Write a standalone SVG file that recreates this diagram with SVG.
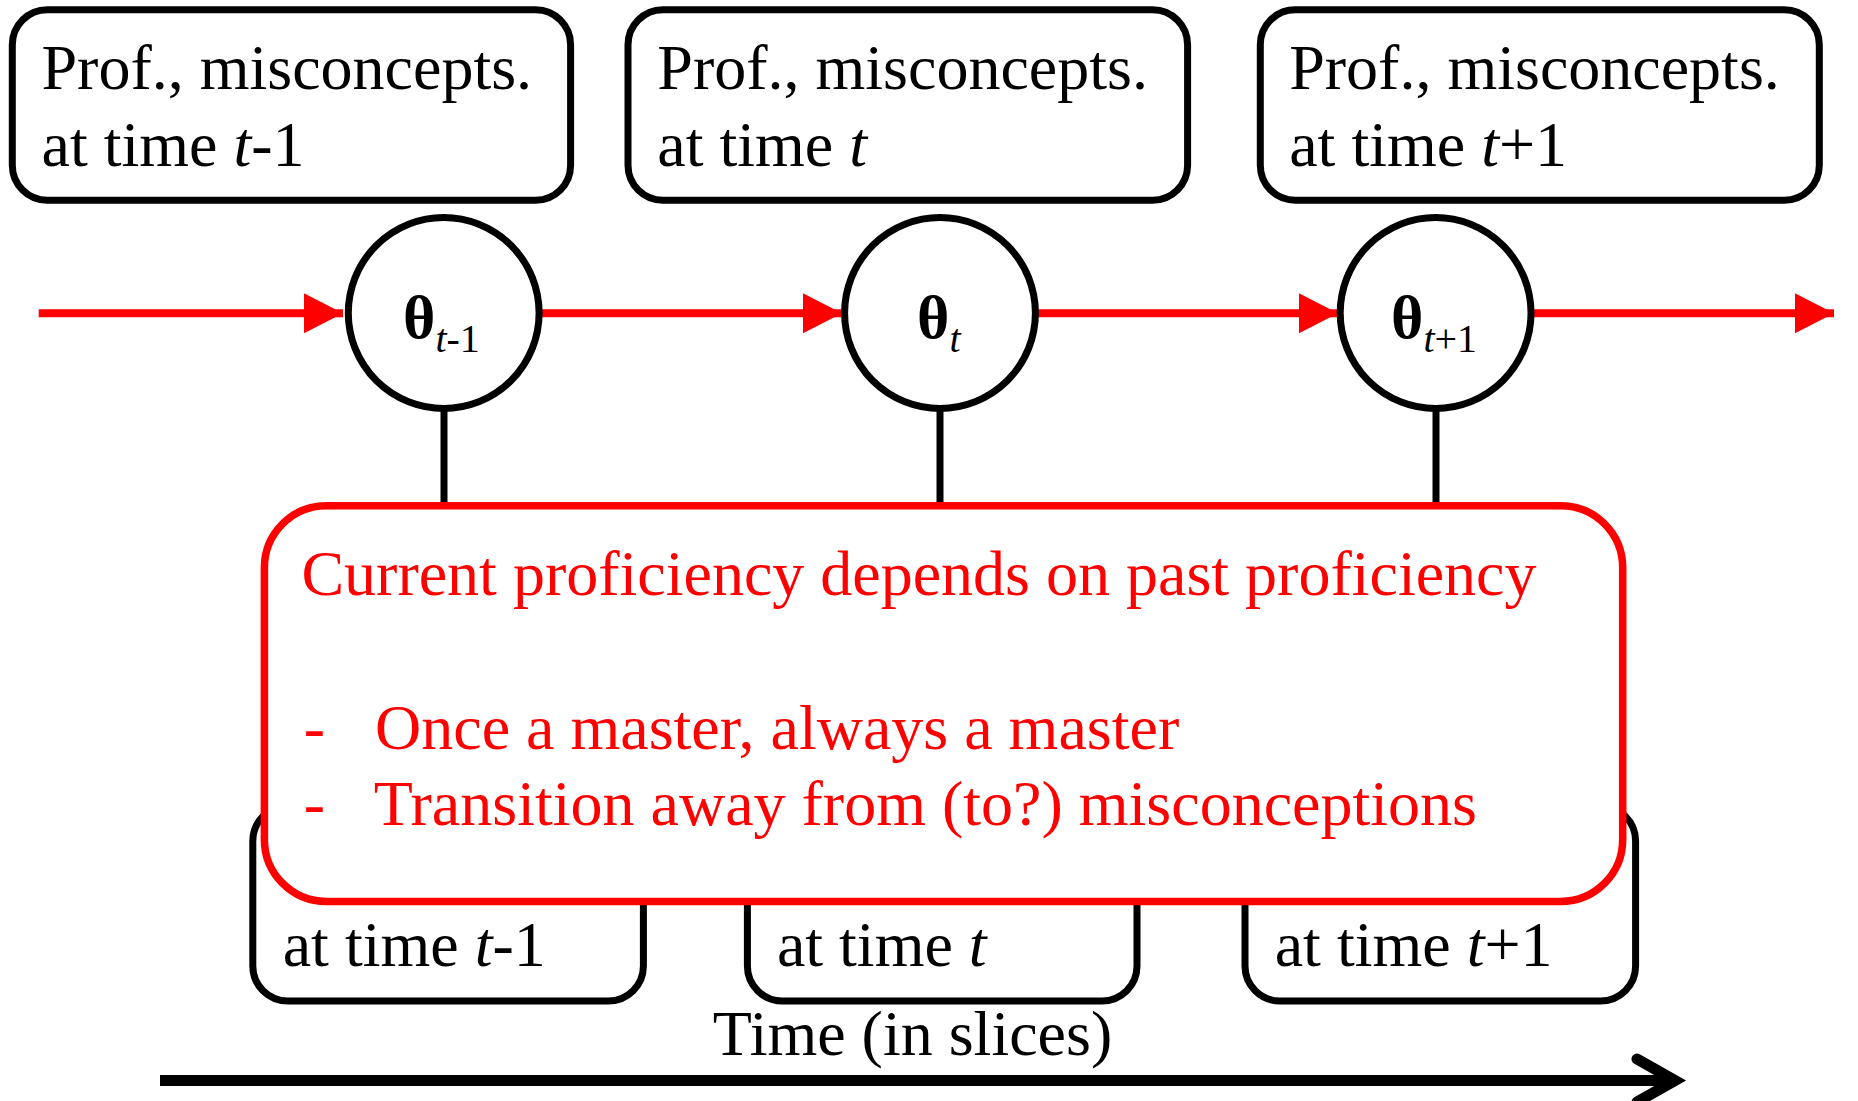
<svg xmlns="http://www.w3.org/2000/svg" width="1858" height="1101" viewBox="0 0 1858 1101">
  <defs>
    <style>
      .box { fill: #ffffff; stroke: #000000; stroke-width: 7; }
      .node { fill: #ffffff; stroke: #000000; stroke-width: 7; }
      .txt { font-family: "Liberation Serif", "Times New Roman", serif; font-size: 64px; fill: #000000; }
      .red { fill: #ff0000; }
      .it { font-style: italic; }
      .theta { font-family: "Liberation Serif", "Times New Roman", serif; font-size: 62px; font-weight: bold; fill: #000000; }
      .sub { font-family: "Liberation Serif", "Times New Roman", serif; font-size: 40px; font-weight: normal; fill: #000000; }
      .flow { stroke: #ff0000; stroke-width: 8; fill: none; }
      .link { stroke: #000000; stroke-width: 7; fill: none; }
      .note { fill: #ffffff; stroke: #ff0000; stroke-width: 7.5; }
    </style>
    <marker id="redHead" markerUnits="userSpaceOnUse" markerWidth="40" markerHeight="40" refX="39" refY="20" orient="auto" viewBox="0 0 40 40">
      <path d="M0,0 L39,20 L0,40 Z" fill="#ff0000"/>
    </marker>
  </defs>

  <!-- top row: proficiency / misconception boxes -->
  <g id="state-prev">
    <rect class="box" x="12.3" y="9.7" width="558.3" height="190.6" rx="35"/>
    <text class="txt" x="41.5" y="89.3">Prof., misconcepts.</text>
    <text class="txt" x="41.5" y="165.7">at time <tspan class="it">t</tspan>-1</text>
  </g>
  <g id="state-cur">
    <rect class="box" x="628" y="9.7" width="559.6" height="190.6" rx="35"/>
    <text class="txt" x="657.3" y="89.3">Prof., misconcepts.</text>
    <text class="txt" x="657.3" y="165.7">at time <tspan class="it">t</tspan></text>
  </g>
  <g id="state-next">
    <rect class="box" x="1260.3" y="9.7" width="559" height="190.6" rx="35"/>
    <text class="txt" x="1289.2" y="89.3">Prof., misconcepts.</text>
    <text class="txt" x="1289.2" y="165.7">at time <tspan class="it">t</tspan>+1</text>
  </g>

  <!-- bottom row boxes, mostly covered by the note -->
  <g id="obs-prev">
    <rect class="box" x="252.8" y="806" width="390.6" height="195" rx="35"/>
    <text class="txt" x="282.7" y="966">at time <tspan class="it">t</tspan>-1</text>
  </g>
  <g id="obs-cur">
    <rect class="box" x="747.4" y="806" width="389.6" height="195" rx="35"/>
    <text class="txt" x="776.9" y="966">at time <tspan class="it">t</tspan></text>
  </g>
  <g id="obs-next">
    <rect class="box" x="1245" y="806" width="390.6" height="195" rx="35"/>
    <text class="txt" x="1274.7" y="966">at time <tspan class="it">t</tspan>+1</text>
  </g>

  <!-- connectors -->
  <g id="connectors">
    <line class="link" x1="444" y1="410" x2="444" y2="510"/>
    <line class="link" x1="940" y1="410" x2="940" y2="510"/>
    <line class="link" x1="1436" y1="410" x2="1436" y2="510"/>
    <line class="flow" x1="38.7" y1="313.3" x2="343" y2="313.3" marker-end="url(#redHead)"/>
    <line class="flow" x1="542" y1="313.3" x2="842" y2="313.3" marker-end="url(#redHead)"/>
    <line class="flow" x1="1038" y1="313.3" x2="1338" y2="313.3" marker-end="url(#redHead)"/>
    <line class="flow" x1="1533" y1="313.3" x2="1834" y2="313.3" marker-end="url(#redHead)"/>
  </g>

  <!-- latent proficiency nodes -->
  <g id="theta-prev">
    <circle class="node" cx="443.7" cy="313" r="95.4"/>
    <text class="theta" x="403" y="338">θ<tspan class="sub it" dy="14">t</tspan><tspan class="sub" dy="0">-1</tspan></text>
  </g>
  <g id="theta-cur">
    <circle class="node" cx="940" cy="313" r="95.4"/>
    <text class="theta" x="917" y="338">θ<tspan class="sub it" dy="14">t</tspan></text>
  </g>
  <g id="theta-next">
    <circle class="node" cx="1435.6" cy="313" r="95.4"/>
    <text class="theta" x="1391" y="338">θ<tspan class="sub it" dy="14">t</tspan><tspan class="sub" dy="0">+1</tspan></text>
  </g>

  <!-- explanatory note -->
  <g id="note">
    <rect class="note" x="264.4" y="505.7" width="1358.3" height="395.7" rx="62"/>
    <text class="txt red" x="301.4" y="595">Current proficiency depends on past proficiency</text>
    <text class="txt red" x="303.7" y="748.6">-</text>
    <text class="txt red" x="375" y="748.6">Once a master, always a master</text>
    <text class="txt red" x="303.7" y="824.6">-</text>
    <text class="txt red" x="373.7" y="824.6">Transition away from (to?) misconceptions</text>
  </g>

  <!-- time axis -->
  <g id="time-axis">
    <text class="txt" x="712.8" y="1055">Time (in slices)</text>
    <line x1="160" y1="1080.5" x2="1672" y2="1080.5" stroke="#000000" stroke-width="11"/>
    <polyline points="1637,1059 1675,1080.5 1637,1102" fill="none" stroke="#000000" stroke-width="11" stroke-linecap="round" stroke-linejoin="miter"/>
  </g>
</svg>
